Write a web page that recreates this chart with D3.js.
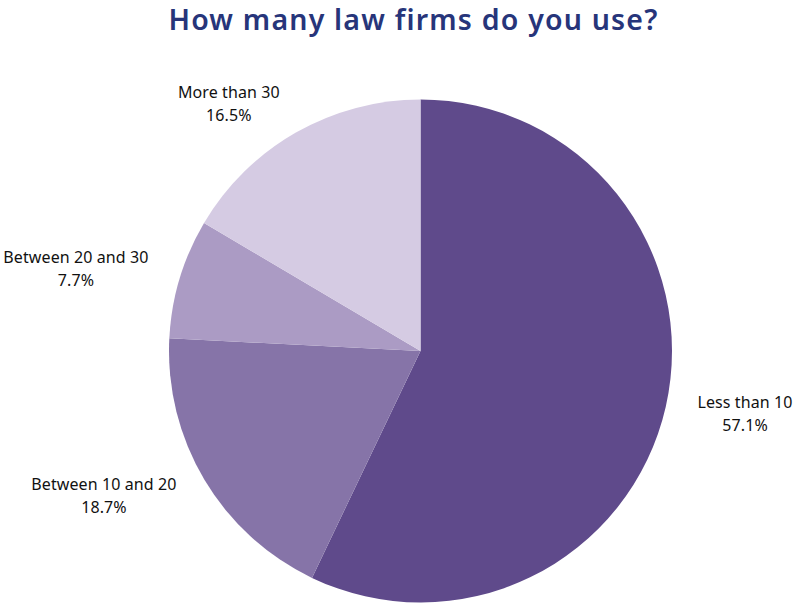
<!DOCTYPE html>
<html>
<head>
<meta charset="utf-8">
<script src="https://cdn.jsdelivr.net/npm/d3@7"></script>
<style>
  html, body { margin: 0; padding: 0; background: #fff; }
  svg { display: block; }
</style>
</head>
<body>
<svg id="chart" width="794" height="603"></svg>
<script>
// Survey answers: number of law firms used
const categories = ["Less than 10", "Between 10 and 20", "Between 20 and 30", "More than 30"];
const shares = [57.1, 18.7, 7.7, 16.5];
const sliceColors = ["#5f4a8b", "#8674a8", "#ab9bc4", "#d5cbe3"];
const titleText = "How many law firms do you use?";

const width = 794, height = 603;
const cx = 420.5, cy = 351, radius = 251.5, labelRadius = 284;

const svg = d3.select("#chart");

svg.append("text")
  .attr("x", 413.5)
  .attr("y", 30)
  .attr("text-anchor", "middle")
  .attr("font-family", "'Noto Sans', sans-serif")
  .attr("font-weight", 600)
  .attr("font-size", 28.5)
  .attr("letter-spacing", 1.2)
  .attr("fill", "#27357a")
  .text(titleText);

const data = categories.map((c, i) => ({ label: c, value: shares[i], color: sliceColors[i] }));

const pie = d3.pie().value(d => d.value).sort(null);
const arcs = pie(data);
const arc = d3.arc().innerRadius(0).outerRadius(radius);

const g = svg.append("g").attr("transform", `translate(${cx},${cy})`);

g.selectAll("path.slice")
  .data(arcs)
  .join("path")
  .attr("class", "slice")
  .attr("d", arc)
  .attr("fill", d => d.data.color);

// Labels: two centred lines, block pushed outward from the pie edge
const fmt = v => d3.format(".1f")(v) + "%";
g.selectAll("g.label")
  .data(arcs)
  .join("g")
  .attr("class", "label")
  .each(function(d) {
    const mid = (d.startAngle + d.endAngle) / 2;
    const px = labelRadius * Math.sin(mid);
    const py = -labelRadius * Math.cos(mid);
    const rightSide = px >= 0;
    const grp = d3.select(this);
    const t1 = grp.append("text").text(d.data.label);
    const t2 = grp.append("text").text(fmt(d.data.value));
    grp.selectAll("text")
      .attr("font-family", "'Noto Sans', sans-serif")
      .attr("font-size", 16)
      .attr("letter-spacing", 0.1)
      .attr("fill", "#111")
      .attr("text-anchor", "middle");
    const w = Math.max(t1.node().getComputedTextLength(), t2.node().getComputedTextLength());
    const bx = rightSide ? px + w / 2 : px - w / 2;
    t1.attr("x", bx).attr("y", py - 6);
    t2.attr("x", bx).attr("y", py + 17);
  });
</script>
</body>
</html>
